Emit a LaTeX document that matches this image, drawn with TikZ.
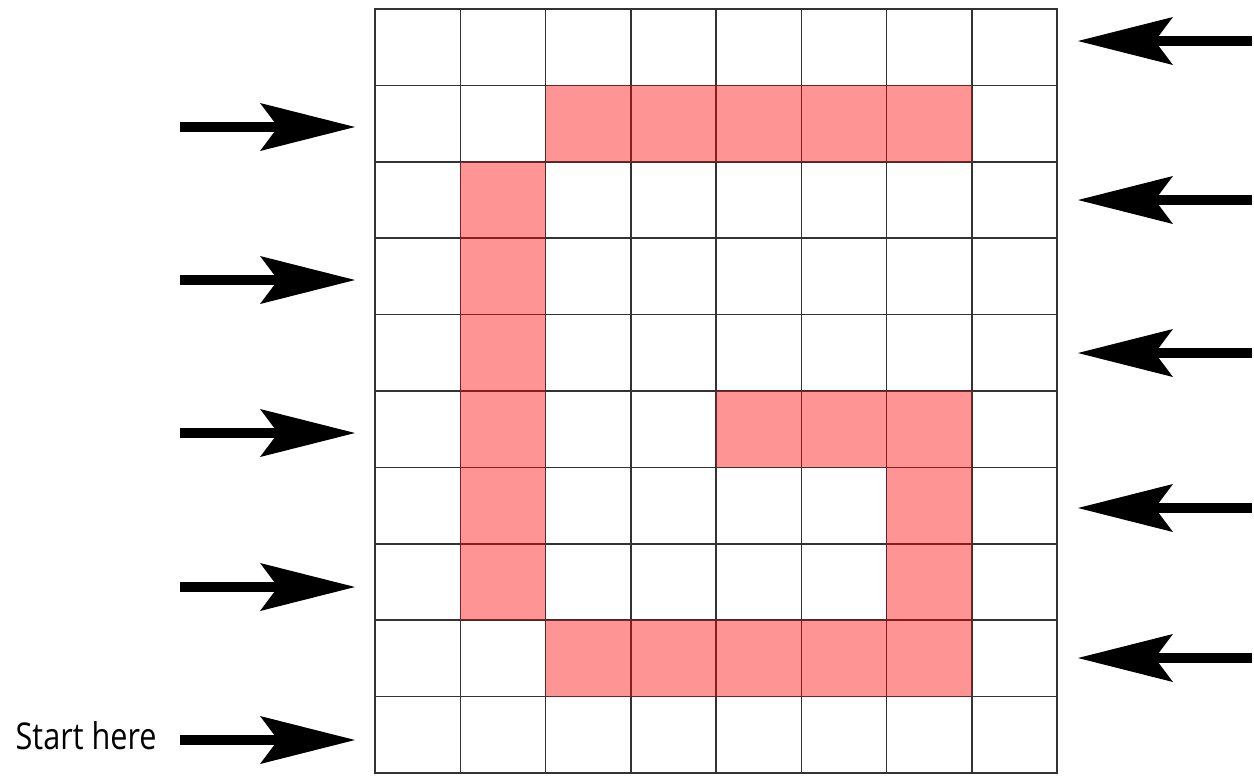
\documentclass[tikz,border=0pt]{standalone}
\usepackage{fontspec}
\setmainfont{Open Sans}
\newfontfamily\startfont[FakeStretch=0.83]{Open Sans}
\usetikzlibrary{arrows.meta}
\tikzset{cell/.style={draw=black!80, line width=0.85pt, outer sep=0pt,
    minimum width=1.705cm, minimum height=1.528cm, inner sep=0pt}}
\tikzset{marked/.style={fill=red, fill opacity=0.42}}
\tikzset{bigarrow/.style={line width=0.2cm,
    -{Stealth[length=1.9cm, width=0.96cm, inset=0.36cm, line width=0pt]}}}
\begin{document}
\begin{tikzpicture}[x=0.02cm, y=-0.02cm]
  \useasboundingbox (0,0) rectangle (1254,775);
  % the board
  \foreach \r in {0,...,9}
    \foreach \c in {0,...,7}
      \node[cell] (c-\r-\c) at ({375+85.25*(\c+0.5)}, {9+76.4*(\r+0.5)}) {};
  % the path through it
  \fill[marked] \foreach \r/\c in {1/2,1/3,1/4,1/5,1/6,
      2/1,3/1,4/1,5/1,6/1,7/1,
      5/4,5/5,5/6,6/6,7/6,
      8/2,8/3,8/4,8/5,8/6}
    {(c-\r-\c.south west) rectangle (c-\r-\c.north east)};
  % arrows from the left
  \node[anchor=east, inner sep=0pt, font=\startfont\fontsize{21}{26}\selectfont] (start) at (157,736) {Start here};
  \foreach \r/\y in {1/127,3/280,5/433,7/587,9/740} {
    \coordinate (l-\r) at (180,\y);
    \draw[bigarrow, shorten >=0.4cm] (l-\r) -- (l-\r -| c-\r-0.west);
  }
  % arrows from the right
  \foreach \r/\y in {0/41,2/200,4/353,6/508,8/658} {
    \coordinate (r-\r) at (1252,\y);
    \draw[bigarrow, shorten >=0.42cm] (r-\r) -- (r-\r -| c-\r-7.east);
  }
\end{tikzpicture}
\end{document}
